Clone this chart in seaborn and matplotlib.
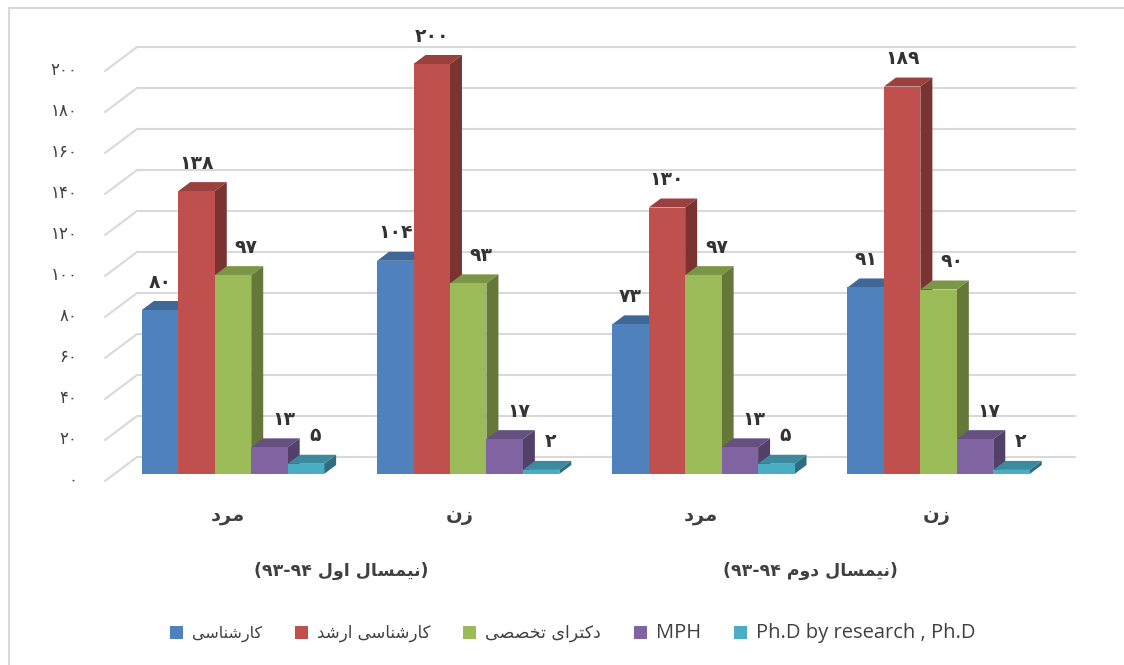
import matplotlib
matplotlib.use("Agg")
import matplotlib.pyplot as plt
from matplotlib.colors import to_rgb
from matplotlib.patches import Polygon
from matplotlib.lines import Line2D
from matplotlib.transforms import Affine2D
import pandas as pd
import seaborn as sns

# ---------- data ----------
groups = ["مرد", "زن", "مرد", "زن"]
semesters = ["(نیمسال اول ۹۳-۹۴)", "(نیمسال دوم ۹۳-۹۴)"]
series_names = ["کارشناسی", "کارشناسی ارشد", "دکترای تخصصی", "MPH", "Ph.D by research , Ph.D"]
bachelor = [80, 104, 73, 91]
master = [138, 200, 130, 189]
specialist = [97, 93, 97, 90]
mph = [13, 17, 13, 17]
phd = [5, 2, 5, 2]
series_values = [bachelor, master, specialist, mph, phd]
y_ticks = list(range(0, 201, 20))
colors = ["#4F81BD", "#C0504D", "#9BBB59", "#8064A2", "#4BACC6"]

# ---------- minimal Arabic shaping (matplotlib has none) ----------
FORMS = {  # isolated, final, initial, medial
    "ا": (0xFE8D, 0xFE8E, None, None), "د": (0xFEA9, 0xFEAA, None, None),
    "ر": (0xFEAD, 0xFEAE, None, None), "ز": (0xFEAF, 0xFEB0, None, None),
    "و": (0xFEED, 0xFEEE, None, None),
    "ت": (0xFE95, 0xFE96, 0xFE97, 0xFE98), "خ": (0xFEA5, 0xFEA6, 0xFEA7, 0xFEA8),
    "س": (0xFEB1, 0xFEB2, 0xFEB3, 0xFEB4), "ش": (0xFEB5, 0xFEB6, 0xFEB7, 0xFEB8),
    "ص": (0xFEB9, 0xFEBA, 0xFEBB, 0xFEBC), "ل": (0xFEDD, 0xFEDE, 0xFEDF, 0xFEE0),
    "م": (0xFEE1, 0xFEE2, 0xFEE3, 0xFEE4), "ن": (0xFEE5, 0xFEE6, 0xFEE7, 0xFEE8),
    "ک": (0xFB8E, 0xFB8F, 0xFB90, 0xFB91), "ی": (0xFBFC, 0xFBFD, 0xFBFE, 0xFBFF),
}
DIGITS = "۰۱۲۳۴۵۶۷۸۹-"


def shape(text):
    if not any(c in FORMS for c in text):
        return text
    out = []
    for i, c in enumerate(text):
        if c not in FORMS:
            out.append(c)
            continue
        prev = text[i - 1] if i else ""
        nxt = text[i + 1] if i + 1 < len(text) else ""
        j_prev = prev in FORMS and FORMS[prev][2] is not None
        j_next = nxt in FORMS and FORMS[c][2] is not None
        form = 3 if j_prev and j_next else 1 if j_prev else 2 if j_next else 0
        out.append(chr(FORMS[c][form]))
    # visual order: reverse, keep number runs left to right, mirror parentheses
    runs, cur = [], ""
    for c in out:
        if c in DIGITS:
            cur += c
        else:
            if cur:
                runs.append(cur)
                cur = ""
            runs.append({"(": ")", ")": "("}.get(c, c))
    if cur:
        runs.append(cur)
    return "".join(reversed(runs))


def persian(n):
    return "".join("۰۱۲۳۴۵۶۷۸۹"[int(d)] for d in str(n))


# ---------- figure ----------
W, H = 1124, 665
sns.set_theme(style="white")
plt.rcParams["font.family"] = ["DejaVu Sans"]
fig = plt.figure(figsize=(W / 100, H / 100), dpi=100)
fig.patch.set_facecolor("white")

# plot area in pixels: x 105..1075, value 0 at y=474, value 200 at y=64
PX_L, PX_R, PX_0, PX_200 = 105, 1075, 474, 64
ax = fig.add_axes([PX_L / W, 1 - PX_0 / H, (PX_R - PX_L) / W, (PX_0 - PX_200) / H])
ax.patch.set_alpha(0)

df = pd.DataFrame(
    [(g, shape(series_names[s]), series_values[s][g]) for s in range(5) for g in range(4)],
    columns=["group", "series", "value"],
)
sns.barplot(data=df, x="group", y="value", hue="series", hue_order=[shape(n) for n in series_names],
            palette=colors, width=0.775, gap=0, saturation=1, ax=ax, legend=True, linewidth=0)

CENTER0, PERIOD = 233, 235.2
ax.set_xlim((PX_L - CENTER0) / PERIOD, (PX_R - CENTER0) / PERIOD)
ax.set_ylim(0, 200)
px_x = 1 / PERIOD
px_y = 200 / (PX_0 - PX_200)
sns.despine(ax=ax, left=True, bottom=True, top=True, right=True)
ax.set_xlabel("")
ax.set_ylabel("")

# 3-D faces of the bars
DX, DY = 12 * px_x, 9 * px_y
for h, (container, col) in enumerate(zip(ax.containers, colors)):
    rgb = to_rgb(col)
    top_c = tuple(v * 0.8 for v in rgb)
    side_c = tuple(v * 0.64 for v in rgb)
    for bar in container:
        x0, w, v = bar.get_x(), bar.get_width(), bar.get_height()
        bar.set_zorder(5 + h + 0.5)
        bar.set_clip_on(False)
        ax.add_patch(Polygon([(x0, v), (x0 + w, v), (x0 + w + DX, v + DY), (x0 + DX, v + DY)],
                             fc=top_c, ec="none", zorder=5 + h, clip_on=False))
        ax.add_patch(Polygon([(x0 + w, 0), (x0 + w + DX, DY), (x0 + w + DX, v + DY), (x0 + w, v)],
                             fc=side_c, ec="none", zorder=5 + h, clip_on=False))

# gridlines with slanted wall segment
BACK_DX, BACK_Y, FRONT_Y = 32 * px_x, 17 * px_y, -7 * px_y
x_left, x_right = ax.get_xlim()
for t in y_ticks:
    ax.plot([x_left, x_left + BACK_DX, x_right], [t + FRONT_Y, t + BACK_Y, t + BACK_Y],
            color="#d9d9d9", lw=1.5, zorder=1, clip_on=False, solid_joinstyle="miter")

# tick labels
ax.set_yticks(y_ticks)
ax.set_yticklabels([persian(t) for t in y_ticks], fontsize=12, color="#404040")
ax.tick_params(axis="y", length=0, pad=20)
for lab in ax.get_yticklabels():
    lab.set_transform(lab.get_transform() + Affine2D().translate(0, -4))
ax.set_xticks(range(4))
ax.set_xticklabels([shape(g) for g in groups], fontsize=14, fontweight="bold", color="#404040")
ax.tick_params(axis="x", length=0, pad=23)
for lab, dx in zip(ax.get_xticklabels(), [-5, -8, -3, -2]):
    lab.set_transform(lab.get_transform() + Affine2D().translate(dx, 0))

# value labels
label_dx = [0, 0, 13, 14, 9]
for h, container in enumerate(ax.containers):
    for bar, v in zip(container, series_values[h]):
        ax.annotate(persian(v), (bar.get_x() + bar.get_width() / 2, v),
                    xytext=(label_dx[h], 28), textcoords="offset pixels",
                    ha="center", va="center", fontsize=13.5, fontweight="bold",
                    color="#333333", zorder=20, annotation_clip=False)

# semester labels
for sem, px in zip(semesters, [341, 810]):
    fig.text(px / W, 1 - 571 / H, shape(sem), ha="center", va="center",
             fontsize=12.5, fontweight="bold", color="#404040")

# legend
handles, labels = ax.get_legend_handles_labels()
leg = ax.legend(handles, labels, ncol=5, loc="center", bbox_to_anchor=(572.5 / W, 1 - 633 / H),
                bbox_transform=fig.transFigure, frameon=False, fontsize=11.5,
                handlelength=0.81, handleheight=0.81, handletextpad=0.56, columnspacing=2.06,
                labelcolor="#404040")
for txt, size in zip(leg.get_texts(), [11.5, 12, 12.5, 14.5, 14.5]):
    txt.set_fontsize(size)
    if size == 14.5:
        txt.set_fontfamily("Open Sans")

# chart frame: only the top and left edges fall inside the image
for xs, ys in [((9, W), (8, 8)), ((9, 9), (8, H))]:
    fig.add_artist(Line2D([x / W for x in xs], [1 - y / H for y in ys], color="#d9d9d9", lw=1.5))
fig.savefig("out.png", dpi=100)
